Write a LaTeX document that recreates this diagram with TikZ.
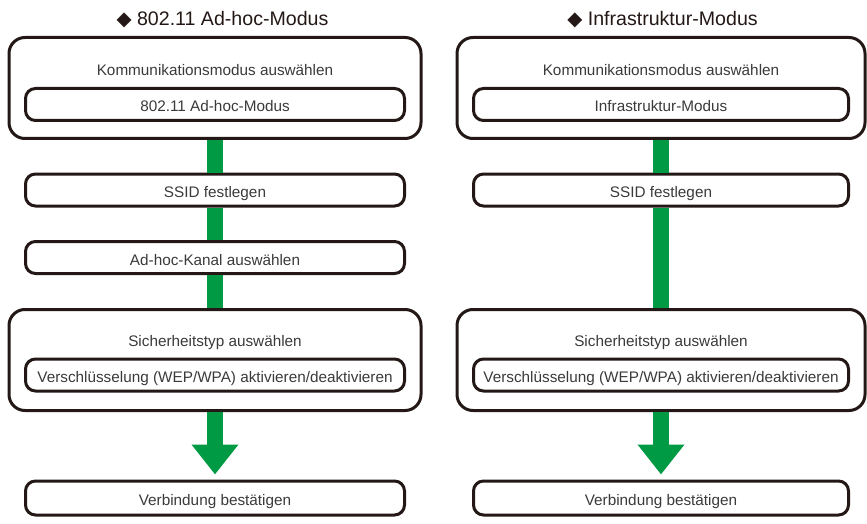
\documentclass[tikz,border=0pt]{standalone}
\usepackage{fontspec}
\setmainfont{Liberation Sans}
\newfontfamily\symfont{DejaVu Sans}
\usetikzlibrary{arrows.meta}
\definecolor{linecol}{HTML}{231815}
\definecolor{textcol}{HTML}{3A3A3A}
\definecolor{flowgreen}{RGB}{0,153,68}

\begin{document}
\begin{tikzpicture}[x=1pt, y=-1pt, >={Triangle[width=45pt, length=30pt]},
    outerbox/.style={draw=linecol, line width=3pt, rounded corners=16pt, minimum height=101pt, inner sep=0pt},
    innerbox/.style={draw=linecol, line width=3pt, rounded corners=10pt, minimum height=32pt, inner sep=0pt,
        text height=15pt, text depth=0pt, font=\fontsize{15.3}{18}\selectfont, text=textcol},
    labeltext/.style={font=\fontsize{15.3}{18}\selectfont, text=textcol, anchor=base},
    titletext/.style={font=\fontsize{19.6}{22}\selectfont, text=linecol, anchor=base},
    flow/.style={draw=flowgreen, line width=16pt}]
    \useasboundingbox (0,0) rectangle (867,524);

    % Ad-hoc
    \node[titletext] (titleA) at (222.5,26) {{\symfont ◆} 802.11 Ad-hoc-Modus};
    \node[outerbox, minimum width=412pt] (kommA) at (215,88) {};
    \node[labeltext] (kommAtext) at (215,76) {Kommunikationsmodus auswählen};
    \node[innerbox, minimum width=379pt] (modeA) at (215,104.5) {802.11 Ad-hoc-Modus};
    \node[innerbox, minimum width=379pt, below of=modeA, node distance=85.5pt] (ssidA) {SSID festlegen};
    \node[innerbox, minimum width=379pt, below of=ssidA, node distance=67.5pt] (kanalA) {Ad-hoc-Kanal auswählen};
    \node[outerbox, minimum width=412pt] (sicherA) at (215,360) {};
    \node[labeltext] (sicherAtext) at (215,346) {Sicherheitstyp auswählen};
    \node[innerbox, minimum width=379pt] (wepA) at (215,375) {Verschlüsselung (WEP/WPA) aktivieren/deaktivieren};
    \node[innerbox, minimum width=379pt, minimum height=34pt, below of=wepA, node distance=123pt] (verbA) {Verbindung bestätigen};

    \draw[flow] (kommA) -- (ssidA);
    \draw[flow] (ssidA) -- (kanalA);
    \draw[flow] (kanalA) -- (sicherA);
    \draw[flow, ->, shorten >=5pt] (sicherA) -- (verbA);

    % Infrastruktur
    \node[titletext] (titleB) at (662.5,26) {{\symfont ◆} Infrastruktur-Modus};
    \node[outerbox, minimum width=408pt] (kommB) at (661,88) {};
    \node[labeltext] (kommBtext) at (661,76) {Kommunikationsmodus auswählen};
    \node[innerbox, minimum width=375pt] (modeB) at (661,104.5) {Infrastruktur-Modus};
    \node[innerbox, minimum width=375pt, below of=modeB, node distance=85.5pt] (ssidB) {SSID festlegen};
    \node[outerbox, minimum width=408pt] (sicherB) at (661,360) {};
    \node[labeltext] (sicherBtext) at (661,346) {Sicherheitstyp auswählen};
    \node[innerbox, minimum width=375pt] (wepB) at (661,375) {Verschlüsselung (WEP/WPA) aktivieren/deaktivieren};
    \node[innerbox, minimum width=375pt, minimum height=34pt, below of=wepB, node distance=123pt] (verbB) {Verbindung bestätigen};

    \draw[flow] (kommB) -- (ssidB);
    \draw[flow] (ssidB) -- (sicherB);
    \draw[flow, ->, shorten >=5pt] (sicherB) -- (verbB);
\end{tikzpicture}
\end{document}
